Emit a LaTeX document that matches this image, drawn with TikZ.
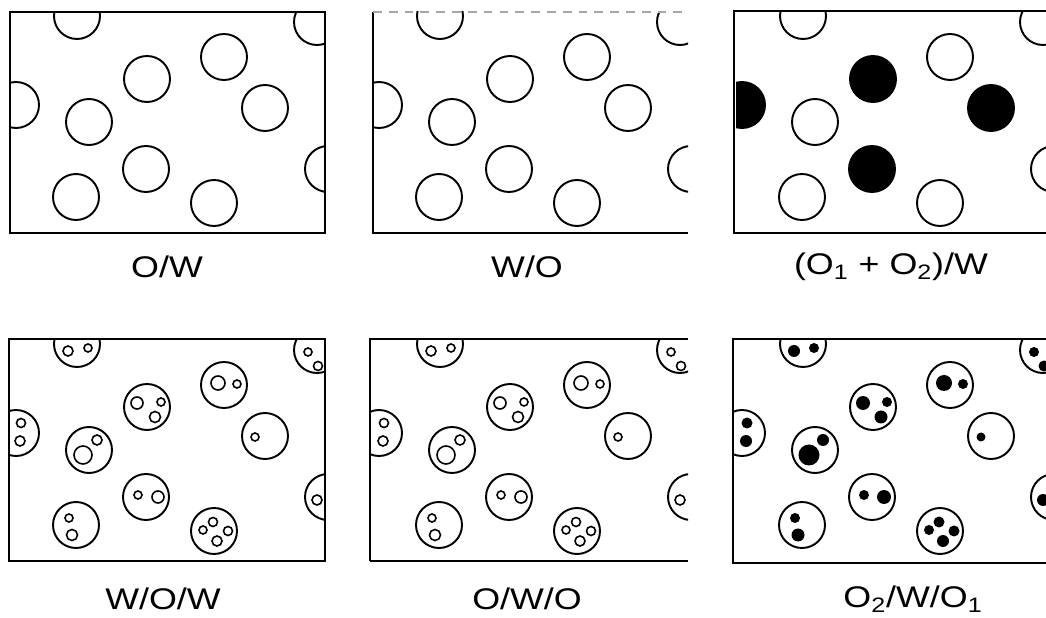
\documentclass[tikz,border=0pt]{standalone}
\usepackage{fontspec}
\setmainfont{Liberation Sans}
\newfontfamily\rotulofont[FakeStretch=1.2]{Liberation Sans}
\begin{document}
\begin{tikzpicture}[
    x=0.02cm,
    y=-0.02cm,
    gota/.style={
        draw,
        line width=1.1pt
    },
    gota llena/.style={
        draw,
        fill=black,
        line width=1.1pt
    },
    gotita/.style={
        draw,
        line width=0.9pt
    },
    gotita llena/.style={
        fill=black
    },
    marco/.style={
        line width=1pt
    },
    rotulo/.style={
        font=\rotulofont\fontsize{17}{20}\selectfont
    }
]
    \useasboundingbox (0,0) rectangle (1046,618);

    % O/W
    \begin{scope}
        \clip (10,12) rectangle (325,233);
        \foreach \cx/\cy in {77/16,317/22,147/79,224/57,16/105,89/122,
                             265/108,328/169,146/169,76/197,214/203}
            \draw[gota] (\cx,\cy) circle (23);
    \end{scope}
    \draw[marco] (10,12) rectangle (325,233);
    \node[rotulo] (ow) at (167,267) {O/W};

    % W/O
    \begin{scope}[shift={(363,0)}]
        \clip (10,12) rectangle (325,233);
        \foreach \cx/\cy in {77/16,317/22,147/79,224/57,16/105,89/122,
                             265/108,328/169,146/169,76/197,214/203}
            \draw[gota] (\cx,\cy) circle (23);
    \end{scope}
    \draw[marco] (373,12) -- (373,233) -- (688,233);
    \draw[black!35,line width=0.6pt,dash pattern=on 5pt off 4pt]
        (373,12) -- (688,12);
    \node[rotulo] (wo) at (527,267) {W/O};

    % (O1 + O2)/W
    \begin{scope}[shift={(726,0)}]
        \clip (10,12) rectangle (320,233);
        \foreach \cx/\cy in {77/16,317/22,224/57,89/122,
                             328/169,76/197,214/203}
            \draw[gota] (\cx,\cy) circle (23);
        \foreach \cx/\cy in {147/79,16/105,265/108,146/169}
            \draw[gota llena] (\cx,\cy) circle (23);
    \end{scope}
    \draw[marco] (1046,11) -- (734,11) -- (734,233) -- (1046,233);
    \node[rotulo] (o1o2w) at (891,267)
        {(O\textsubscript{1} + O\textsubscript{2})/W};

    % W/O/W
    \begin{scope}[shift={(0,328)}]
        \clip (9,11) rectangle (325,233);
        \foreach \cx/\cy in {77/16,317/22,147/79,224/57,16/105,89/122,
                             265/108,328/169,146/169,76/197,214/203}
            \draw[gota] (\cx,\cy) circle (23);
        \foreach \cx/\cy/\r in {68/23/5,88/20/4,308/24/4,318/38/4.5,
                                137/75/6,161/74/4,155/89/5.5,218/55/7,237/56/4,
                                21/95/4.5,20/113/5,83/127/9,97/112/5,255/109/4,
                                317/172/5,138/167/4,158/169/6,69/190/4,72/207/5.5,
                                213/194/4.5,203/202/4,228/203/4.5,217/213/5}
            \draw[gotita] (\cx,\cy) circle (\r);
    \end{scope}
    \draw[marco] (9,339) rectangle (325,561);
    \node[rotulo] (wow) at (163,599) {W/O/W};

    % O/W/O
    \begin{scope}[shift={(363,328)}]
        \clip (7,11) rectangle (325,233);
        \foreach \cx/\cy in {77/16,317/22,147/79,224/57,16/105,89/122,
                             265/108,328/169,146/169,76/197,214/203}
            \draw[gota] (\cx,\cy) circle (23);
        \foreach \cx/\cy/\r in {68/23/5,88/20/4,308/24/4,318/38/4.5,
                                137/75/6,161/74/4,155/89/5.5,218/55/7,237/56/4,
                                21/95/4.5,20/113/5,83/127/9,97/112/5,255/109/4,
                                317/172/5,138/167/4,158/169/6,69/190/4,72/207/5.5,
                                213/194/4.5,203/202/4,228/203/4.5,217/213/5}
            \draw[gotita] (\cx,\cy) circle (\r);
    \end{scope}
    \draw[marco] (688,339) -- (370,339) -- (370,561);
    \draw[line width=1.7pt] (370,561) -- (688,561);
    \node[rotulo] (owo) at (527,599) {O/W/O};

    % O2/W/O1
    \begin{scope}[shift={(726,328)}]
        \clip (7,11) rectangle (320,235);
        \foreach \cx/\cy in {77/16,317/22,147/79,224/57,16/105,89/122,
                             265/108,328/169,146/169,76/197,214/203}
            \draw[gota] (\cx,\cy) circle (23);
        \foreach \cx/\cy/\r in {68/23/6,88/20/5,308/24/5,318/38/5.5,
                                137/75/7,161/74/5,155/89/6.5,218/55/8,237/56/5,
                                21/95/5.5,20/113/6,83/127/10.5,97/112/6,255/109/4.5,
                                317/172/6,138/167/5,158/169/7,69/190/5,72/207/6.5,
                                213/194/5.5,203/202/5,228/203/5.5,217/213/6}
            \fill[gotita llena] (\cx,\cy) circle (\r);
    \end{scope}
    \draw[marco] (1046,339) -- (733,339) -- (733,563) -- (1046,563);
    \node[rotulo] (o2wo1) at (913,599)
        {O\textsubscript{2}/W/O\textsubscript{1}};
\end{tikzpicture}
\end{document}
